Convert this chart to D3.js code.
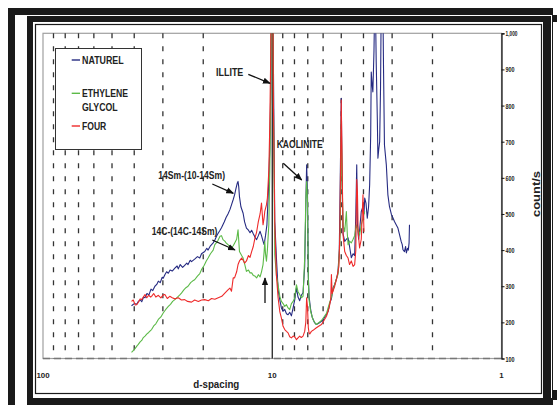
<!DOCTYPE html>
<html>
<head>
<meta charset="utf-8">
<script src="https://cdn.jsdelivr.net/npm/d3@7"></script>
<style>
  body { margin: 0; background: #fff; }
  svg { display: block; }
  text { font-family: "Liberation Sans", Arial, sans-serif; font-weight: bold; }
</style>
</head>
<body>
<svg id="chart"></svg>
<script>
// d-spacing (A) , count/s
const naturel = [[41.1,246],[40.0,252],[39.0,250],[38.4,258],[37.6,262],[37.1,257],[36.4,270],[35.9,268],[35.2,280],[34.5,276],[33.8,292],[33.2,288],[32.5,300],[31.9,305],[31.4,314],[30.8,310],[30.2,325],[29.9,322],[29.4,332],[28.9,340],[28.4,336],[27.9,345],[27.3,342],[26.6,350],[26.0,356],[25.7,348],[25.2,360],[24.6,352],[24.1,358],[23.6,364],[23.3,360],[22.8,372],[22.5,368],[21.8,375],[21.2,382],[20.7,378],[20.35,390],[19.7,396],[19.3,405],[19.05,400],[18.6,412],[18.1,420],[17.8,428],[17.4,442],[16.9,455],[16.65,462],[16.2,478],[15.9,490],[15.6,500],[15.3,512],[15.06,525],[14.8,540],[14.6,553],[14.4,570],[14.2,586],[14.1,590],[14.0,575],[13.9,548],[13.7,520],[13.4,502],[13.2,478],[12.96,461],[12.7,455],[12.5,448],[12.3,455],[12.1,445],[11.9,436],[11.7,429],[11.5,440],[11.3,452],[11.14,440],[10.97,425],[10.85,415],[10.7,440],[10.55,470],[10.4,560],[10.25,680],[10.15,850],[10.05,1200],[9.97,1300],[9.88,900],[9.75,480],[9.59,379],[9.43,290],[9.27,262],[9.12,240],[8.97,231],[8.82,236],[8.67,224],[8.53,221],[8.39,228],[8.25,218],[8.11,240],[7.98,262],[7.84,296],[7.72,270],[7.59,260],[7.47,275],[7.34,282],[7.22,355],[7.12,560],[7.08,636],[7.02,560],[6.96,330],[6.91,272],[6.80,235],[6.70,215],[6.55,200],[6.42,194],[6.25,198],[6.10,203],[6.01,206],[5.90,215],[5.80,222],[5.71,230],[5.60,255],[5.52,265],[5.43,295],[5.34,305],[5.25,320],[5.17,337],[5.10,400],[5.05,600],[5.00,820],[4.96,600],[4.91,445],[4.83,424],[4.75,430],[4.67,434],[4.60,410],[4.52,379],[4.44,390],[4.37,385],[4.32,500],[4.28,636],[4.25,470],[4.20,430],[4.16,455],[4.09,507],[4.02,520],[3.98,500],[3.95,544],[3.90,530],[3.85,488],[3.80,520],[3.76,580],[3.72,720],[3.70,893],[3.67,860],[3.64,838],[3.60,950],[3.56,1150],[3.52,921],[3.48,760],[3.46,654],[3.43,680],[3.40,700],[3.37,850],[3.34,1150],[3.30,1150],[3.27,900],[3.24,691],[3.18,636],[3.13,553],[3.08,520],[3.02,498],[2.98,490],[2.93,479],[2.88,470],[2.83,461],[2.79,445],[2.74,424],[2.71,415],[2.69,401],[2.65,396],[2.62,410],[2.60,392],[2.57,405],[2.55,400],[2.53,420],[2.52,470]];

const glycol = [[41.1,117],[40.4,122],[39.6,128],[38.9,135],[38.4,139],[37.7,146],[37.1,150],[36.5,158],[35.9,162],[35.2,168],[34.6,172],[33.9,178],[33.6,180],[32.9,190],[32.2,196],[31.4,208],[30.6,215],[29.9,226],[29.2,235],[28.4,244],[27.8,250],[27.2,258],[26.6,263],[25.9,270],[25.3,276],[24.9,281],[24.3,290],[23.8,296],[23.3,300],[22.7,310],[22.2,315],[21.8,318],[21.2,328],[20.7,335],[20.35,346],[19.8,358],[19.4,370],[19.05,378],[18.6,390],[18.1,400],[17.8,415],[17.3,425],[16.9,438],[16.65,440],[16.4,429],[16.1,425],[15.9,420],[15.6,415],[15.3,410],[15.06,406],[14.8,412],[14.6,419],[14.3,430],[14.1,456],[13.9,396],[13.6,385],[13.4,378],[13.2,362],[12.96,341],[12.7,345],[12.5,337],[12.3,337],[12.1,330],[11.9,328],[11.7,323],[11.5,332],[11.3,326],[11.14,340],[10.97,360],[10.85,395],[10.78,424],[10.7,390],[10.6,369],[10.5,400],[10.35,470],[10.25,620],[10.15,838],[10.07,1200],[9.98,1300],[9.88,800],[9.75,387],[9.59,330],[9.43,304],[9.27,272],[9.12,258],[8.97,252],[8.82,244],[8.67,249],[8.53,240],[8.39,235],[8.25,252],[8.11,258],[7.98,268],[7.90,290],[7.84,304],[7.72,285],[7.59,277],[7.47,268],[7.34,272],[7.22,378],[7.14,539],[7.08,590],[7.02,540],[6.96,320],[6.91,263],[6.80,230],[6.64,208],[6.50,198],[6.42,194],[6.25,200],[6.10,205],[5.95,215],[5.80,225],[5.65,250],[5.52,270],[5.43,290],[5.34,305],[5.25,320],[5.17,332],[5.10,390],[5.05,447],[5.00,760],[4.96,600],[4.91,470],[4.83,451],[4.75,507],[4.71,450],[4.67,415],[4.60,425],[4.52,420],[4.44,430],[4.37,440],[4.30,470],[4.23,455],[4.16,442],[4.09,470],[4.02,488],[3.98,500],[3.95,507]];

const four = [[41.1,258],[40.4,262],[39.6,248],[39.05,249],[38.4,255],[37.7,265],[37.1,263],[36.5,270],[35.9,277],[35.3,268],[34.6,275],[33.9,270],[33.6,272],[32.9,280],[32.2,270],[31.4,275],[30.6,268],[29.9,276],[29.4,277],[28.7,266],[28.0,272],[27.3,268],[26.6,265],[25.7,268],[24.9,262],[24.1,263],[23.4,258],[22.5,256],[21.8,262],[21.0,258],[20.35,262],[19.7,263],[19.0,260],[18.4,266],[17.8,264],[17.2,268],[16.6,272],[16.1,281],[15.6,290],[15.3,295],[15.06,286],[14.8,323],[14.6,323],[14.3,340],[14.1,360],[13.9,370],[13.6,378],[13.4,372],[13.2,364],[12.96,370],[12.7,385],[12.5,380],[12.3,396],[12.1,410],[11.9,433],[11.7,450],[11.5,479],[11.3,500],[11.14,530],[10.97,470],[10.85,490],[10.78,507],[10.6,525],[10.5,544],[10.35,620],[10.25,746],[10.15,950],[10.07,1300],[9.98,1300],[9.88,800],[9.75,470],[9.59,330],[9.43,268],[9.27,230],[9.12,212],[8.97,189],[8.82,180],[8.67,175],[8.53,171],[8.39,160],[8.25,157],[8.11,162],[7.98,160],[7.84,152],[7.72,157],[7.59,162],[7.47,158],[7.34,162],[7.22,175],[7.14,200],[7.08,268],[7.02,244],[6.96,185],[6.91,171],[6.86,168],[6.75,175],[6.64,178],[6.42,185],[6.25,190],[6.10,194],[5.95,205],[5.80,217],[5.65,240],[5.56,263],[5.52,332],[5.48,280],[5.34,300],[5.25,318],[5.17,340],[5.12,355],[5.07,450],[5.03,650],[5.00,815],[4.96,650],[4.91,442],[4.83,396],[4.75,385],[4.67,378],[4.60,360],[4.52,370],[4.44,355],[4.37,360],[4.32,400],[4.28,595],[4.25,560],[4.22,450],[4.16,406],[4.09,430],[4.02,553],[3.98,451]];

const seriesNames = ["NATUREL", "ETHYLENE GLYCOL", "FOUR"];
const seriesColors = ["#262b82", "#5cba48", "#ee2a2a"];
const minorD = [90, 80, 70, 60, 50, 40, 30, 20, 9, 8, 7, 6, 5, 4, 3, 2];
const xLabels = [100, 10, 1];
const yTicks = [100, 200, 300, 400, 500, 600, 700, 800, 900, 1000];

const width = 557, height = 405;
const svg = d3.select("#chart").attr("width", width).attr("height", height);

// FRAME
svg.append("rect").attr("x", 8).attr("y", 8).attr("width", 545).attr("height", 397).attr("fill", "#1a1a1a");
svg.append("rect").attr("x", 15).attr("y", 15).attr("width", 12).attr("height", 390).attr("fill", "#fff");
svg.append("rect").attr("x", 553).attr("y", 15).attr("width", 4).attr("height", 7).attr("fill", "#1a1a1a");
svg.append("rect").attr("x", 553).attr("y", 390).attr("width", 4).attr("height", 10).attr("fill", "#1a1a1a");
svg.append("line").attr("x1", 27).attr("x2", 552).attr("y1", 15.5).attr("y2", 15.5).attr("stroke", "#fff").attr("stroke-width", 1);
svg.append("line").attr("x1", 551.5).attr("x2", 551.5).attr("y1", 15).attr("y2", 398).attr("stroke", "#fff").attr("stroke-width", 1);
svg.append("rect").attr("x", 33).attr("y", 22).attr("width", 510).attr("height", 376).attr("fill", "#fff");
svg.append("rect").attr("x", 35.5).attr("y", 24.5).attr("width", 506).attr("height", 369)
  .attr("fill", "#fff").attr("stroke", "#1a1a1a").attr("stroke-width", 1.2);

// SCALES
const pLeft = 43, pRight = 501.5, pTop = 33.3, pBottom = 358.5;
const x = d3.scaleLog().domain([100, 1]).range([pLeft, pRight]);
const y = d3.scaleLinear().domain([100, 1000]).range([pBottom, pTop]);

// plot area border
svg.append("rect").attr("x", pLeft).attr("y", pTop).attr("width", pRight - pLeft).attr("height", pBottom - pTop)
  .attr("fill", "none").attr("stroke", "#a0a0a0").attr("stroke-width", 1.2);

// GRID
svg.append("g").selectAll("line").data(minorD).enter().append("line")
  .attr("x1", d => x(d)).attr("x2", d => x(d))
  .attr("y1", pTop).attr("y2", pBottom)
  .attr("stroke", "#333").attr("stroke-width", 1.3).attr("stroke-dasharray", "5,8");

svg.append("line").attr("x1", pLeft).attr("x2", pRight).attr("y1", pBottom).attr("y2", pBottom)
  .attr("stroke", "#777").attr("stroke-width", 1.3).attr("stroke-dasharray", "7,4");

svg.append("line").attr("x1", x(10)).attr("x2", x(10)).attr("y1", pTop).attr("y2", pBottom)
  .attr("stroke", "#111").attr("stroke-width", 1.2);

// SERIES
svg.append("clipPath").attr("id", "clip").append("rect")
  .attr("x", pLeft).attr("y", pTop).attr("width", pRight - pLeft).attr("height", pBottom - pTop);

const line = d3.line().x(d => x(d[0])).y(d => y(d[1]));
const plot = svg.append("g").attr("clip-path", "url(#clip)");
[naturel, glycol, four].forEach((s, i) => {
  plot.append("path").datum(s).attr("d", line)
    .attr("fill", "none").attr("stroke", seriesColors[i]).attr("stroke-width", 1.1)
    .attr("stroke-linejoin", "round");
});

// Y AXIS (right)
const yAxis = d3.axisRight(y).tickValues(yTicks).tickSize(3).tickPadding(1);
const ya = svg.append("g").attr("transform", "translate(" + pRight + ",0)").call(yAxis);
ya.select(".domain").attr("stroke", "#111").attr("stroke-width", 1.2);
ya.selectAll(".tick line").attr("stroke", "#111");
ya.selectAll("text").attr("font-size", 8).attr("fill", "#222")
  .attr("textLength", d => String(d).length * 3).attr("lengthAdjust", "spacingAndGlyphs");

svg.append("text").attr("transform", "translate(540,194) rotate(-90)")
  .attr("text-anchor", "middle").attr("font-size", 11).attr("fill", "#222")
  .attr("textLength", 46).attr("lengthAdjust", "spacingAndGlyphs").text("count/s");

// X LABELS
svg.append("g").selectAll("text").data(xLabels).enter().append("text")
  .attr("x", d => x(d)).attr("y", 378.3).attr("text-anchor", "middle")
  .attr("font-size", 8).attr("fill", "#222")
  .attr("textLength", d => String(d).length * 4.4).attr("lengthAdjust", "spacingAndGlyphs")
  .text(d => d);

svg.append("text").attr("x", 193.3).attr("y", 387.5).attr("font-size", 11.5).attr("fill", "#222")
  .attr("textLength", 46).attr("lengthAdjust", "spacingAndGlyphs").text("d-spacing");

// LEGEND
const lg = svg.append("g");
lg.append("rect").attr("x", 55.5).attr("y", 48.5).attr("width", 86).attr("height", 101)
  .attr("fill", "#fff").attr("stroke", "#333").attr("stroke-width", 1);
const legendRows = [
  { lines: ["NATUREL"], y: 64.3, lw: [41.7], ly: 60 },
  { lines: ["ETHYLENE", "GLYCOL"], y: 97.3, lw: [46, 35.7], ly: 93.3 },
  { lines: ["FOUR"], y: 130, lw: [24.3], ly: 126 }
];
legendRows.forEach((r, i) => {
  lg.append("line").attr("x1", 71.7).attr("x2", 80).attr("y1", r.ly).attr("y2", r.ly)
    .attr("stroke", seriesColors[i]).attr("stroke-width", 1.4);
  r.lines.forEach((t, j) => {
    lg.append("text").attr("x", 82).attr("y", r.y + j * 13.4).attr("font-size", 11.5).attr("fill", "#222")
      .attr("textLength", r.lw[j]).attr("lengthAdjust", "spacingAndGlyphs").text(t);
  });
});

// ANNOTATIONS
const defs = svg.append("defs");
defs.append("marker").attr("id", "ah").attr("viewBox", "0 0 10 10").attr("refX", 9).attr("refY", 5)
  .attr("markerWidth", 6).attr("markerHeight", 6).attr("orient", "auto")
  .append("path").attr("d", "M0,1 L10,5 L0,9 Z").attr("fill", "#111");

const notes = [
  { t: "ILLITE", x: 216, y: 76, w: 27.3, a: [248.3, 74.3, 270, 83.3] },
  { t: "KAOLINITE", x: 276.7, y: 148.3, w: 46, a: [283.3, 163.3, 301.7, 180] },
  { t: "14Sm-(10-14Sm)", x: 158.3, y: 179.3, w: 66.7, a: [212.3, 184, 233.3, 193.3] },
  { t: "14C-(14C-14Sm)", x: 151.7, y: 235, w: 65.7, a: [212.3, 240, 235, 250] }
];
notes.forEach(n => {
  svg.append("text").attr("x", n.x).attr("y", n.y).attr("font-size", 11).attr("fill", "#222")
    .attr("textLength", n.w).attr("lengthAdjust", "spacingAndGlyphs").text(n.t);
  svg.append("line").attr("x1", n.a[0]).attr("y1", n.a[1]).attr("x2", n.a[2]).attr("y2", n.a[3])
    .attr("stroke", "#111").attr("stroke-width", 1.3).attr("marker-end", "url(#ah)");
});
svg.append("line").attr("x1", 265).attr("y1", 303).attr("x2", 265).attr("y2", 278)
  .attr("stroke", "#111").attr("stroke-width", 1.3).attr("marker-end", "url(#ah)");
</script>
</body>
</html>
